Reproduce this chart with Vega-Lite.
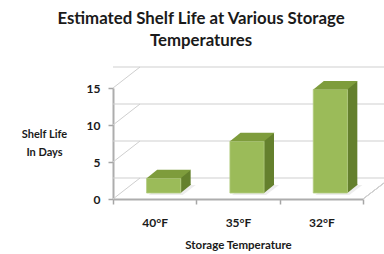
{
  "$schema": "https://vega.github.io/schema/vega-lite/v6.json",
  "autosize": {"type": "none"},
  "padding": {"left": 113, "top": 88, "right": 21, "bottom": 55},
  "width": 250,
  "height": 111,
  "background": "white",
  "config": {
    "view": {"stroke": null},
    "font": "Lato",
    "axis": {
      "grid": false,
      "domainColor": "#adadad",
      "domainWidth": 2,
      "tickColor": "#a6a6a6",
      "tickWidth": 1.5,
      "tickSize": 5,
      "labelFont": "Lato",
      "labelFontSize": 12,
      "labelFontWeight": "bold",
      "labelColor": "#1a1a1a",
      "titleFont": "Lato",
      "titleFontWeight": "bold",
      "titleColor": "#1a1a1a"
    },
    "axisX": {
      "labelAngle": 0,
      "tickBand": "extent",
      "labelPadding": 13,
      "titleFontSize": 11.5,
      "titlePadding": 11
    },
    "axisY": {
      "labelPadding": 8,
      "titleAngle": 0,
      "titleX": -69,
      "titleY": 40,
      "titleAlign": "center",
      "titleBaseline": "top",
      "titleLineHeight": 18,
      "titleFontSize": 11
    }
  },
  "title": {
    "text": ["Estimated Shelf Life at Various Storage", "Temperatures"],
    "anchor": "middle",
    "frame": "group",
    "font": "Lato",
    "fontSize": 16.8,
    "fontWeight": "bold",
    "lineHeight": 22,
    "dx": -37,
    "dy": -11,
    "color": "#1a1a1a"
  },
  "datasets": {
    "bars": [
      {"temp": "40°F", "days": 2},
      {"temp": "35°F", "days": 7},
      {"temp": "32°F", "days": 14}
    ],
    "ticks": [{"v": 0}, {"v": 5}, {"v": 10}, {"v": 15}]
  },
  "layer": [
    {
      "data": {"name": "ticks"},
      "mark": {"type": "rule", "color": "#cfcfcf", "strokeWidth": 1, "xOffset": 27, "x2Offset": 21, "yOffset": -21},
      "encoding": {
        "y": {"field": "v", "type": "quantitative", "title": ["Shelf Life", "In Days"], "axis": {"values": [0, 5, 10, 15]}}
      }
    },
    {
      "data": {"name": "ticks"},
      "mark": {"type": "point", "shape": "M0,0L27,-21", "size": 4, "filled": false, "stroke": "#cfcfcf", "strokeWidth": 1, "opacity": 1},
      "encoding": {
        "x": {"datum": "40°F", "type": "nominal", "bandPosition": 0, "title": "Storage Temperature"},
        "y": {"field": "v", "type": "quantitative", "title": ["Shelf Life", "In Days"], "axis": {"values": [0, 5, 10, 15]}}
      }
    },
    {
      "data": {"name": "ticks"},
      "mark": {"type": "point", "shape": "M0,0L21,-16", "size": 4, "filled": false, "stroke": "#cfcfcf", "strokeWidth": 1, "opacity": 1},
      "encoding": {
        "x": {"datum": "32°F", "type": "nominal", "bandPosition": 1, "title": "Storage Temperature"},
        "y": {"datum": 0, "type": "quantitative", "title": ["Shelf Life", "In Days"], "axis": {"values": [0, 5, 10, 15]}}
      }
    },
    {
      "data": {"name": "bars"},
      "mark": {"type": "point", "shape": "M-17,0L17,0L30,-10L-4,-10Z", "size": 4, "filled": true, "fill": "#ededed", "opacity": 1, "xOffset": 11, "yOffset": -4},
      "encoding": {
        "x": {"field": "temp", "type": "nominal", "sort": null, "title": "Storage Temperature"},
        "y": {"datum": 0, "type": "quantitative", "title": ["Shelf Life", "In Days"], "axis": {"values": [0, 5, 10, 15]}}
      }
    },
    {
      "data": {"name": "bars"},
      "mark": {"type": "bar", "width": 10, "color": "#64802d", "xOffset": 31, "yOffset": -14, "y2Offset": -14},
      "encoding": {
        "x": {"field": "temp", "type": "nominal", "sort": null, "title": "Storage Temperature"},
        "y": {"field": "days", "type": "quantitative", "title": ["Shelf Life", "In Days"], "axis": {"values": [0, 5, 10, 15]}},
        "y2": {"datum": 0}
      }
    },
    {
      "data": {"name": "bars"},
      "mark": {"type": "point", "shape": "M17,0L17,-8.5L27.5,-8.5Z", "size": 4, "filled": true, "fill": "#64802d", "opacity": 1, "xOffset": 9, "yOffset": -6},
      "encoding": {
        "x": {"field": "temp", "type": "nominal", "sort": null, "title": "Storage Temperature"},
        "y": {"datum": 0, "type": "quantitative", "title": ["Shelf Life", "In Days"], "axis": {"values": [0, 5, 10, 15]}}
      }
    },
    {
      "data": {"name": "bars"},
      "mark": {"type": "bar", "width": {"band": 0.41}, "color": "#9bbb59", "stroke": "#b3cc80", "strokeWidth": 0.8, "xOffset": 9, "yOffset": -6, "y2Offset": -6},
      "encoding": {
        "x": {
          "field": "temp",
          "type": "nominal",
          "sort": null,
          "title": "Storage Temperature",
          "scale": {"domain": ["40°F", "35°F", "32°F"], "paddingInner": 0, "paddingOuter": 0}
        },
        "y": {
          "field": "days",
          "type": "quantitative",
          "title": ["Shelf Life", "In Days"],
          "scale": {"domain": [0, 15], "nice": false},
          "axis": {"values": [0, 5, 10, 15]}
        },
        "y2": {"datum": 0}
      }
    },
    {
      "data": {"name": "bars"},
      "mark": {"type": "point", "shape": "M-17,0L17,0L27.5,-8.5L-6.5,-8.5Z", "size": 4, "filled": true, "fill": "#7e9c3c", "opacity": 1, "xOffset": 9, "yOffset": -6},
      "encoding": {
        "x": {"field": "temp", "type": "nominal", "sort": null, "title": "Storage Temperature"},
        "y": {"field": "days", "type": "quantitative", "title": ["Shelf Life", "In Days"], "axis": {"values": [0, 5, 10, 15]}}
      }
    }
  ]
}
